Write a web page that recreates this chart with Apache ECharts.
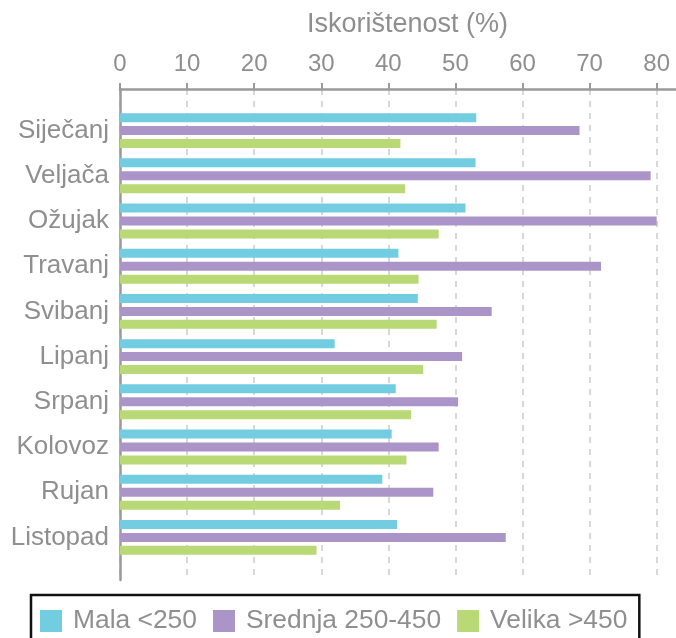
<!DOCTYPE html>
<html>
<head>
<meta charset="utf-8">
<script src="https://cdn.jsdelivr.net/npm/echarts@6/dist/echarts.min.js"></script>
<style>
  html, body { margin: 0; padding: 0; background: #fff; }
  #chart { width: 676px; height: 638px; }
</style>
</head>
<body>
<div id="chart"></div>
<script>
// Data
const months = ['Siječanj', 'Veljača', 'Ožujak', 'Travanj', 'Svibanj', 'Lipanj', 'Srpanj', 'Kolovoz', 'Rujan', 'Listopad'];
const mala = [53.1, 53.0, 51.5, 41.5, 44.4, 32.0, 41.1, 40.5, 39.1, 41.3];
const srednja = [68.5, 79.1, 80.0, 71.7, 55.4, 51.0, 50.4, 47.5, 46.7, 57.5];
const velika = [41.8, 42.5, 47.5, 44.5, 47.2, 45.2, 43.4, 42.7, 32.8, 29.3];
const seriesNames = ['Mala <250', 'Srednja 250-450', 'Velika >450'];
const colours = ['#72CDE0', '#AB94C8', '#B9D876'];

const textColour = '#8f8f8f';
const axisColour = '#9a9a9a';
const font = 'Liberation Sans, Arial, sans-serif';
// axis runs on past 80 to the right edge; the end line/label are hidden
const xMax = 82.88;

const chart = echarts.init(document.getElementById('chart'), null, {renderer: 'canvas'});

chart.setOption({
    animation: false,
    title: {
        text: 'Iskorištenost (%)',
        left: 302,
        top: 6,
        textStyle: {color: textColour, fontSize: 27, fontWeight: 'normal', fontFamily: font}
    },
    legend: {
        data: seriesNames,
        left: 31,
        top: 595,
        orient: 'horizontal',
        icon: 'rect',
        itemWidth: 22,
        itemHeight: 22,
        itemGap: 16,
        padding: [13, 12, 30, 9],
        borderColor: '#111',
        borderWidth: 2.5,
        textStyle: {color: textColour, fontSize: 26.4, fontFamily: font, padding: [0, 0, 0, 6]}
    },
    grid: [
        // frame: top axis, dashed grid lines, left axis line
        {left: 120, right: 0, top: 89, bottom: 58},
        // bars
        {left: 120, right: 0, top: 108, bottom: 78}
    ],
    xAxis: [
        {
            gridIndex: 0,
            type: 'value',
            position: 'top',
            min: 0,
            max: xMax,
            interval: 10,
            axisLine: {show: true, onZero: false, lineStyle: {color: axisColour, width: 2.5}},
            axisTick: {show: true, inside: false, length: 6, lineStyle: {color: axisColour, width: 2}},
            axisLabel: {color: textColour, fontSize: 24, fontFamily: font, margin: 13, showMaxLabel: false},
            splitLine: {show: true, showMaxLine: false, lineStyle: {color: '#cccccc', width: 1.5, type: [6, 6]}}
        },
        {
            gridIndex: 1,
            type: 'value',
            min: 0,
            max: xMax,
            show: false
        }
    ],
    yAxis: [
        {
            gridIndex: 0,
            type: 'value',
            min: 0,
            max: 1,
            axisLine: {show: true, onZero: false, lineStyle: {color: axisColour, width: 2.5}},
            axisTick: {show: false},
            axisLabel: {show: false},
            splitLine: {show: false}
        },
        {
            gridIndex: 1,
            type: 'category',
            inverse: true,
            data: months,
            axisLine: {show: false},
            axisTick: {show: false},
            axisLabel: {color: textColour, fontSize: 26, fontFamily: font, margin: 11}
        }
    ],
    series: [mala, srednja, velika].map((data, idx) => ({
        name: seriesNames[idx],
        type: 'bar',
        xAxisIndex: 1,
        yAxisIndex: 1,
        data,
        barWidth: 9,
        barGap: '44%',
        itemStyle: {color: colours[idx]}
    }))
});
</script>
</body>
</html>
